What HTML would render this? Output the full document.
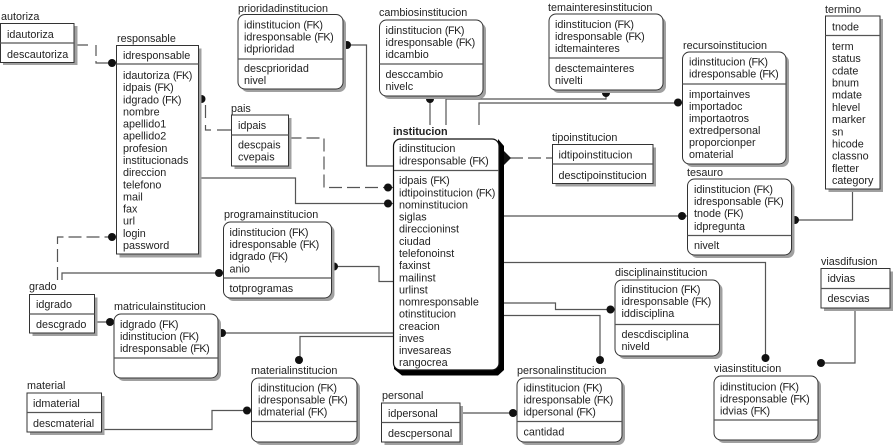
<!DOCTYPE html>
<html><head><meta charset="utf-8">
<style>
html,body{margin:0;padding:0;background:#fff}
svg{display:block}
text{font-family:"Liberation Sans",Arial,sans-serif;font-size:10.8px;fill:#222}
.k{letter-spacing:-.5px}
.b{fill:#fff;stroke:#333;stroke-width:1}
.s{fill:#a0a0a0;stroke:none}
.l{fill:none;stroke:#555;stroke-width:1.2}
.d{fill:none;stroke:#555;stroke-width:1.2;stroke-dasharray:13 5}
.p{fill:#111;stroke:none}
</style></head>
<body>
<svg xmlns="http://www.w3.org/2000/svg" width="895" height="446" viewBox="0 0 895 446">
<rect width="895" height="446" fill="#fff"/>

<!-- connectors -->
<path class="l" d="M74 45H88M96 45V56M96 61V63H116.500"/>
<path class="l" d="M198 99H201.500M205.500 105V118M205.500 125V130H211M217 130H231.500"/>
<path class="d" d="M288.500 138H324V187.500H394"/>
<path class="l" d="M343 45H366.500V166H394"/>
<path class="l" d="M198 178H295.500V203.500H394"/>
<path class="l" d="M430 96V125M446 125V99H606V90"/>
<path class="l" d="M479 125V103H682.500"/>
<path class="d" d="M510 158H552"/>
<path class="l" d="M504 216H687.500"/>
<path class="l" d="M791.500 220H852.500V189"/>
<path class="l" d="M331.500 266.500H379V281.500H394"/>
<path class="l" d="M62 280V273H223.500"/>
<path class="d" d="M57.500 280V237H116.500"/>
<path class="l" d="M94 322H114"/>
<path class="l" d="M218 333H394M394 336.500H300V364"/>
<path class="l" d="M101.500 429.500H212V410.500H251.500"/>
<path class="l" d="M460 413H517"/>
<path class="l" d="M504 262.500H765.500V362"/>
<path class="l" d="M504 303H555.500V309.500H615"/>
<path class="l" d="M504 315.500H600V364"/>
<path class="l" d="M855 308V363H825"/>

<!-- dots -->
<g class="p">
<circle cx="112" cy="63" r="4"/><circle cx="201.500" cy="99" r="4"/>
<circle cx="388" cy="187.500" r="4"/><circle cx="347" cy="45" r="4"/>
<circle cx="388" cy="203.500" r="4"/><circle cx="430" cy="99" r="4"/>
<circle cx="606" cy="93" r="4"/><circle cx="678" cy="102.500" r="4"/>
<path d="M504 151L511 158L504 165Z"/>
<circle cx="682" cy="216" r="4"/><circle cx="795" cy="220" r="4"/>
<circle cx="334" cy="266.500" r="4"/><circle cx="219" cy="273" r="4"/>
<circle cx="112" cy="237" r="4"/><circle cx="110" cy="322" r="4"/>
<circle cx="222" cy="333" r="4"/><circle cx="299" cy="360" r="4"/>
<circle cx="247" cy="410.500" r="4"/><circle cx="513" cy="413" r="4"/>
<circle cx="765.500" cy="358" r="4"/><circle cx="610.500" cy="309.500" r="4"/>
<circle cx="600" cy="360" r="4"/><circle cx="821" cy="363" r="4"/>
</g>

<!-- autoriza -->
<rect class="s" x="3" y="26" width="74.500" height="39"/>
<rect class="b" x="0.500" y="23.500" width="73.500" height="39"/>
<path class="l" d="M0 43H74"/>
<text x="1" y="20">autoriza</text><text x="7" y="38">idautoriza</text><text x="7" y="58">descautoriza</text>

<!-- responsable -->
<rect class="s" x="119.500" y="48.500" width="82" height="209"/>
<rect class="b" x="116.500" y="45.500" width="82" height="208.500"/>
<path class="l" d="M116.500 64H198.500"/>
<text x="117" y="42">responsable</text><text x="123" y="59">idresponsable</text>
<text x="123" y="79">idautoriza <tspan class="k">(FK)</tspan></text><text x="123" y="91">idpais <tspan class="k">(FK)</tspan></text><text x="123" y="103.300">idgrado <tspan class="k">(FK)</tspan></text><text x="123" y="115.400">nombre</text><text x="123" y="127.600">apellido1</text><text x="123" y="139.700">apellido2</text><text x="123" y="151.800">profesion</text><text x="123" y="164">institucionads</text><text x="123" y="176">direccion</text><text x="123" y="188.300">telefono</text><text x="123" y="200.400">mail</text><text x="123" y="212.500">fax</text><text x="123" y="224.700">url</text><text x="123" y="236.800">login</text><text x="123" y="249">password</text>

<!-- prioridadinstitucion -->
<rect class="s" x="241" y="17.500" width="105" height="74.500" rx="7"/>
<rect class="b" x="238" y="14.500" width="105" height="74.500" rx="7"/>
<path class="l" d="M238 59H343"/>
<text x="238" y="12">prioridadinstitucion</text><text x="244" y="28.500">idinstitucion <tspan class="k">(FK)</tspan></text><text x="244" y="40.500">idresponsable <tspan class="k">(FK)</tspan></text><text x="244" y="52.500">idprioridad</text><text x="244" y="72">descprioridad</text><text x="244" y="84">nivel</text>

<!-- cambiosinstitucion -->
<rect class="s" x="382.500" y="23" width="103.500" height="76" rx="7"/>
<rect class="b" x="379.500" y="20" width="103.500" height="76" rx="7"/>
<path class="l" d="M379.500 64H483"/>
<text x="379" y="16">cambiosinstitucion</text><text x="385.500" y="34">idinstitucion <tspan class="k">(FK)</tspan></text><text x="385.500" y="46">idresponsable <tspan class="k">(FK)</tspan></text><text x="385.500" y="58">idcambio</text><text x="385.500" y="78">desccambio</text><text x="385.500" y="90">nivelc</text>

<!-- temainteresinstitucion -->
<rect class="s" x="552" y="17" width="114" height="76" rx="7"/>
<rect class="b" x="549" y="14" width="114" height="76" rx="7"/>
<path class="l" d="M549 58H663"/>
<text x="548" y="11">temainteresinstitucion</text><text x="555" y="28">idinstitucion <tspan class="k">(FK)</tspan></text><text x="555" y="40">idresponsable <tspan class="k">(FK)</tspan></text><text x="555" y="52">idtemainteres</text><text x="555" y="72">desctemainteres</text><text x="555" y="84">nivelti</text>

<!-- recursoinstitucion -->
<rect class="s" x="685.500" y="55" width="103.500" height="112" rx="7"/>
<rect class="b" x="682.500" y="52" width="103.500" height="112" rx="7"/>
<path class="l" d="M682.500 84H786"/>
<text x="683" y="49">recursoinstitucion</text><text x="689" y="65.500">idinstitucion <tspan class="k">(FK)</tspan></text><text x="689" y="77.500">idresponsable <tspan class="k">(FK)</tspan></text><text x="689" y="98">importainves</text><text x="689" y="110">importadoc</text><text x="689" y="122">importaotros</text><text x="689" y="134">extredpersonal</text><text x="689" y="146">proporcionper</text><text x="689" y="158">omaterial</text>

<!-- termino -->
<rect class="s" x="828.500" y="19" width="54.500" height="173"/>
<rect class="b" x="825.500" y="16" width="54.500" height="173"/>
<path class="l" d="M825.500 35.500H880"/>
<text x="825" y="13">termino</text><text x="832" y="30.500">tnode</text>
<text x="832" y="50">term</text><text x="832" y="62">status</text><text x="832" y="74.400">cdate</text><text x="832" y="86.500">bnum</text><text x="832" y="98.700">mdate</text><text x="832" y="110.900">hlevel</text><text x="832" y="123">marker</text><text x="832" y="135.300">sn</text><text x="832" y="147.400">hicode</text><text x="832" y="159.600">classno</text><text x="832" y="171.800">fletter</text><text x="832" y="184">category</text>

<!-- tesauro -->
<rect class="s" x="690.500" y="182" width="104" height="76" rx="7"/>
<rect class="b" x="687.500" y="179" width="104" height="76" rx="7"/>
<path class="l" d="M687.500 235.500H791.500"/>
<text x="687" y="176">tesauro</text><text x="694" y="193">idinstitucion <tspan class="k">(FK)</tspan></text><text x="694" y="205">idresponsable <tspan class="k">(FK)</tspan></text><text x="694" y="217">tnode <tspan class="k">(FK)</tspan></text><text x="694" y="230">idpregunta</text><text x="694" y="249">nivelt</text>

<!-- tipoinstitucion -->
<rect class="s" x="555.500" y="147.500" width="100.500" height="39"/>
<rect class="b" x="552.500" y="144.500" width="100.500" height="39"/>
<path class="l" d="M552.500 164H653"/>
<text x="552" y="141">tipoinstitucion</text><text x="558.500" y="158.500">idtipoinstitucion</text><text x="558.500" y="179">desctipoinstitucion</text>

<!-- pais -->
<rect class="s" x="234.500" y="118" width="57" height="51"/>
<rect class="b" x="231.500" y="115" width="57" height="51"/>
<path class="l" d="M231.500 135H288.500"/>
<text x="231" y="112">pais</text><text x="238" y="129">idpais</text><text x="238" y="148.500">descpais</text><text x="238" y="160.500">cvepais</text>

<!-- institucion -->
<path fill="#000" d="M498 139L504 146V370L498 375.500H402L394 369V362H498Z"/>
<rect x="393.500" y="139" width="105.500" height="231" rx="7" fill="#fff" stroke="#111" stroke-width="1.200"/>
<path class="l" d="M394 170.500H499"/>
<text x="393" y="135" style="font-weight:bold">institucion</text>
<text x="399" y="152">idinstitucion</text><text x="399" y="164.500">idresponsable <tspan class="k">(FK)</tspan></text>
<text x="399" y="184">idpais <tspan class="k">(FK)</tspan></text><text x="399" y="196.300">idtipoinstitucion <tspan class="k">(FK)</tspan></text><text x="399" y="208.300">nominstitucion</text><text x="399" y="220.500">siglas</text><text x="399" y="232.700">direccioninst</text><text x="399" y="244.800">ciudad</text><text x="399" y="257">telefonoinst</text><text x="399" y="269">faxinst</text><text x="399" y="281.300">mailinst</text><text x="399" y="293.400">urlinst</text><text x="399" y="305.600">nomresponsable</text><text x="399" y="317.700">otinstitucion</text><text x="399" y="329.800">creacion</text><text x="399" y="342">inves</text><text x="399" y="354">invesareas</text><text x="399" y="366">rangocrea</text>

<!-- programainstitucion -->
<rect class="s" x="226.500" y="225" width="108" height="76" rx="7"/>
<rect class="b" x="223.500" y="222" width="108" height="76" rx="7"/>
<path class="l" d="M223.500 278H331.500"/>
<text x="224" y="218">programainstitucion</text><text x="229.500" y="236">idinstitucion <tspan class="k">(FK)</tspan></text><text x="229.500" y="248">idresponsable <tspan class="k">(FK)</tspan></text><text x="229.500" y="260">idgrado <tspan class="k">(FK)</tspan></text><text x="229.500" y="272.500">anio</text><text x="229.500" y="292">totprogramas</text>

<!-- grado -->
<rect class="s" x="32.500" y="297.500" width="65" height="38.500"/>
<rect class="b" x="29.500" y="294.500" width="65" height="38.500"/>
<path class="l" d="M29.500 314H94.500"/>
<text x="29" y="290">grado</text><text x="36" y="308">idgrado</text><text x="36" y="328">descgrado</text>

<!-- matriculainstitucion -->
<rect class="s" x="117" y="317" width="104" height="64" rx="7"/>
<rect class="b" x="114" y="314" width="104" height="64" rx="7"/>
<path class="l" d="M114 358H218"/>
<text x="114" y="310">matriculainstitucion</text><text x="120" y="328">idgrado <tspan class="k">(FK)</tspan></text><text x="120" y="340">idinstitucion <tspan class="k">(FK)</tspan></text><text x="120" y="352">idresponsable <tspan class="k">(FK)</tspan></text>

<!-- material -->
<rect class="s" x="30" y="396" width="74.500" height="39"/>
<rect class="b" x="27" y="393" width="74.500" height="39"/>
<path class="l" d="M27 412.500H101.500"/>
<text x="27" y="389">material</text><text x="33" y="407">idmaterial</text><text x="33" y="427">descmaterial</text>

<!-- materialinstitucion -->
<rect class="s" x="254.500" y="381" width="105.500" height="64" rx="7"/>
<rect class="b" x="251.500" y="378" width="105.500" height="64" rx="7"/>
<path class="l" d="M251.500 421.500H357"/>
<text x="251" y="374">materialinstitucion</text><text x="258" y="391.500">idinstitucion <tspan class="k">(FK)</tspan></text><text x="258" y="403.500">idresponsable <tspan class="k">(FK)</tspan></text><text x="258" y="415.500">idmaterial <tspan class="k">(FK)</tspan></text>

<!-- personal -->
<rect class="s" x="384.500" y="406" width="78.500" height="39"/>
<rect class="b" x="381.500" y="403" width="78.500" height="39"/>
<path class="l" d="M381.500 422.500H460"/>
<text x="382" y="399">personal</text><text x="388" y="417">idpersonal</text><text x="388" y="437">descpersonal</text>

<!-- personalinstitucion -->
<rect class="s" x="520" y="381" width="105" height="64" rx="7"/>
<rect class="b" x="517" y="378" width="105" height="64" rx="7"/>
<path class="l" d="M517 421.500H622"/>
<text x="517" y="374">personalinstitucion</text><text x="523.500" y="391.500">idinstitucion <tspan class="k">(FK)</tspan></text><text x="523.500" y="403.500">idresponsable <tspan class="k">(FK)</tspan></text><text x="523.500" y="415.500">idpersonal <tspan class="k">(FK)</tspan></text><text x="523.500" y="435.500">cantidad</text>

<!-- disciplinainstitucion -->
<rect class="s" x="618" y="283" width="104.500" height="76" rx="7"/>
<rect class="b" x="615" y="280" width="104.500" height="76" rx="7"/>
<path class="l" d="M615 324.500H719.500"/>
<text x="615" y="276">disciplinainstitucion</text><text x="621.500" y="293">idinstitucion <tspan class="k">(FK)</tspan></text><text x="621.500" y="305">idresponsable <tspan class="k">(FK)</tspan></text><text x="621.500" y="317">iddisciplina</text><text x="621.500" y="338">descdisciplina</text><text x="621.500" y="350">niveld</text>

<!-- viasdifusion -->
<rect class="s" x="824" y="271.500" width="69" height="39.500"/>
<rect class="b" x="821" y="268.500" width="69" height="39.500"/>
<path class="l" d="M821 288.500H890"/>
<text x="821" y="265">viasdifusion</text><text x="827.500" y="282">idvias</text><text x="827.500" y="302">descvias</text>

<!-- viasinstitucion -->
<rect class="s" x="717" y="379" width="104" height="64" rx="7"/>
<rect class="b" x="714" y="376" width="104" height="64" rx="7"/>
<path class="l" d="M714 420H818"/>
<text x="714" y="372">viasinstitucion</text><text x="720" y="390.500">idinstitucion <tspan class="k">(FK)</tspan></text><text x="720" y="402.500">idresponsable <tspan class="k">(FK)</tspan></text><text x="720" y="414.500">idvias <tspan class="k">(FK)</tspan></text>
</svg>
</body></html>
